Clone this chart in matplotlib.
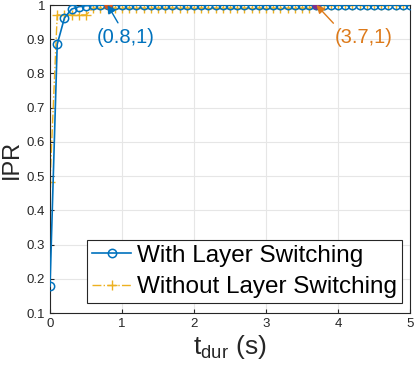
import numpy as np
import matplotlib.pyplot as plt

plt.rcParams['font.family'] = ['Liberation Sans', 'DejaVu Sans']
plt.rcParams['mathtext.fontset'] = 'custom'
plt.rcParams['mathtext.rm'] = 'Liberation Sans'

# t_dur values (s), step 0.1
t_dur = np.round(np.arange(0, 5.01, 0.1), 1)

# IPR with layer switching
ipr_with = [0.178, 0.885, 0.962, 0.988, 0.995, 0.998, 0.999, 0.9995] + [1.0] * 43

# IPR without layer switching
ipr_without = [0.482, 0.971, 0.971, 0.971, 0.971, 0.971] + [0.991] * 31 + [1.0] * 14

blue = '#0072BD'
yellow = '#EDB120'
orange = '#DD7A1A'

fig = plt.figure(figsize=(4.15, 3.74), dpi=100)
ax = fig.add_axes([0.1205, 0.163, 0.8675, 0.8236])

ax.plot(t_dur, ipr_with, '-o', color=blue, lw=1.2, ms=6, mfc='none', mew=1.1,
        label='With Layer Switching', zorder=3)
ax.plot(t_dur, ipr_without, '-.+', color=yellow, lw=1.0, ms=7, mew=1.0,
        label='Without Layer Switching', zorder=2)

# data tips
ax.plot(0.8, 1.0, 'o', color='#D95319', ms=5, zorder=4)
ax.annotate('(0.8,1)', xy=(0.8, 1.0), xytext=(1.05, 0.905), color=blue,
            fontsize=14.5, ha='center', va='center',
            arrowprops=dict(arrowstyle='-|>', color=blue, lw=1.0, relpos=(0.42, 1.0),
                            shrinkA=2, shrinkB=0, mutation_scale=12), zorder=5)
ax.plot(3.7, 1.0, 'o', color='#7E2F8E', ms=5, zorder=4)
ax.annotate('(3.7,1)', xy=(3.7, 1.0), xytext=(4.36, 0.905), color=orange,
            fontsize=14.5, ha='center', va='center',
            arrowprops=dict(arrowstyle='-|>', color=orange, lw=1.0, relpos=(0.05, 1.0),
                            shrinkA=2, shrinkB=0, mutation_scale=12), zorder=5)

ax.set_xlim(0, 5)
ax.set_ylim(0.1, 1.0)
ax.set_xticks(range(0, 6))
ax.set_yticks(np.round(np.arange(0.1, 1.01, 0.1), 1))
ax.set_yticklabels(['0.1', '0.2', '0.3', '0.4', '0.5', '0.6', '0.7', '0.8', '0.9', '1'])
ax.tick_params(labelsize=9.5, direction='in', length=3, color='#262626', labelcolor='#262626')
ax.grid(True, color='#e6e6e6', lw=0.8)
ax.set_axisbelow(True)
for s in ax.spines.values():
    s.set_color('#262626')
    s.set_linewidth(0.8)

ax.set_xlabel(r'$\mathregular{t_{dur}}$ (s)', fontsize=19, color='#262626', labelpad=2)
ax.set_ylabel('IPR', fontsize=17, color='#262626', labelpad=3)

leg = ax.legend(loc='lower right', bbox_to_anchor=(0.978, 0.032), fontsize=17.5,
                fancybox=False, framealpha=1, edgecolor='#262626', borderpad=0.2,
                handlelength=1.6, handletextpad=0.25, labelspacing=0.4, borderaxespad=0)
leg.get_frame().set_linewidth(0.8)

fig.savefig('out.png', dpi=100)
